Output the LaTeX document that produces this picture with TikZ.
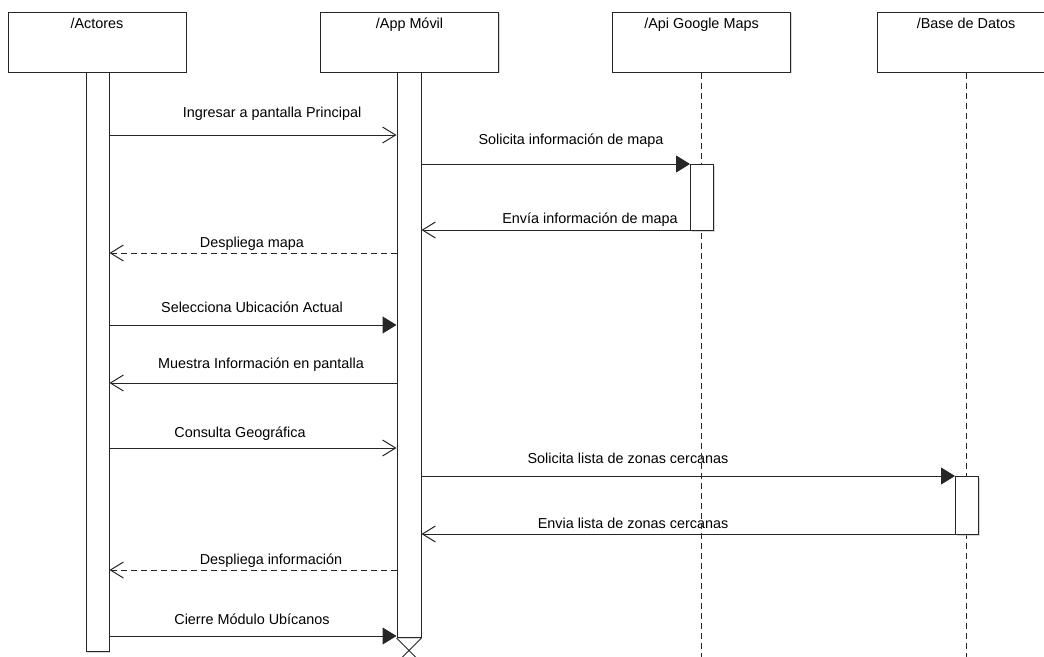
\documentclass[tikz,border=0pt]{standalone}
\usepackage{fontspec}
\setmainfont{Liberation Sans}
\usepackage{tikz}
\usetikzlibrary{arrows.meta}
\usetikzlibrary{shadows}
\usetikzlibrary{positioning}
\tikzset{shade/.style = {drop shadow={shadow xshift=1.2pt,shadow yshift=-1.2pt,fill=black!30}}}
\tikzset{head/.style = {draw=black!85, line width=1pt, fill=white, shade, minimum width=178pt, minimum height=60pt, inner sep=0}}
\tikzset{bar/.style = {draw=black!85, line width=1pt, fill=white, shade, inner sep=0, anchor=north}}
\tikzset{lbl/.style = {font=\fontsize{14.4}{16}\selectfont, anchor=base, inner sep=0}}
\tikzset{life/.style = {draw=black!85, line width=1pt, dash pattern=on 6pt off 4pt}}
\tikzset{call/.style = {draw=black!85, line width=1pt, -{Triangle[length=14pt,width=17pt]}}}
\tikzset{async/.style = {draw=black!85, line width=1pt, -{Straight Barb[length=13pt,width=16pt]}}}
\tikzset{ret/.style = {async, dash pattern=on 6pt off 4pt}}

\begin{document}
\begin{tikzpicture}[x=1pt,y=-1pt]
        \useasboundingbox (0,0) rectangle (1044,656);
        \clip (0,0) rectangle (1044,656);
        % participants
        \node[head, label={[lbl,yshift=-17pt]north:{/Actores}}] (actores) at (97,42) {};
        \node[head, label={[lbl,yshift=-17pt]north:{/App Móvil}}] (app) at (409.5,42) {};
        \node[head, label={[lbl,yshift=-17pt]north:{/Api Google Maps}}] (api) at (701.5,42) {};
        \node[head, label={[lbl,yshift=-17pt]north:{/Base de Datos}}] (bd) at (966,42) {};
        % activation bars
        \node[bar, minimum width=23pt, minimum height=579pt] (actbar) at (97.5,72) {};
        \node[bar, minimum width=24pt, minimum height=565pt] (appbar) at (409,72) {};
        % messages
        \draw[async] (actbar.east |- 0,135) -- (appbar.west |- 0,135);
        \node[lbl] (m1) at (272,117) {Ingresar a pantalla Principal};
        \draw[call] (appbar.east |- 0,164) -- (690,164) coordinate (apitop);
        \node[lbl] (m2) at (571,144) {Solicita información de mapa};
        \draw[async] (690,230) coordinate (apibot) -- (appbar.east |- 0,230);
        \node[lbl] (m3) at (590,223) {Envía información de mapa};
        \draw[ret] (appbar.west |- 0,253) -- (actbar.east |- 0,253);
        \node[lbl] (m4) at (252,247) {Despliega mapa};
        \draw[call] (actbar.east |- 0,325) -- (appbar.west |- 0,325);
        \node[lbl] (m5) at (252,312) {Selecciona Ubicación Actual};
        \draw[async] (appbar.west |- 0,383) -- (actbar.east |- 0,383);
        \node[lbl] (m6) at (261,368) {Muestra Información en pantalla};
        \draw[async] (actbar.east |- 0,448) -- (appbar.west |- 0,448);
        \node[lbl] (m7) at (240,437) {Consulta Geográfica};
        \draw[call] (appbar.east |- 0,476) -- (955,476) coordinate (bdtop);
        \node[lbl] (m8) at (628,463) {Solicita lista de zonas cercanas};
        \draw[async] (955,534) coordinate (bdbot) -- (appbar.east |- 0,534);
        \node[lbl] (m9) at (633,528) {Envia lista de zonas cercanas};
        \draw[ret] (appbar.west |- 0,570) -- (actbar.east |- 0,570);
        \node[lbl] (m10) at (271,564) {Despliega información};
        \draw[call] (actbar.east |- 0,636) -- (appbar.west |- 0,636);
        \node[lbl] (m11) at (252,624) {Cierre Módulo Ubícanos};
        % lifelines
        \draw[life] (api.south) -- ++(0,600);
        \draw[life] (bd.south) -- ++(0,600);
        \node[bar, minimum width=23pt, minimum height=66pt, anchor=north west] (apiact) at (apitop) {};
        \node[bar, minimum width=23pt, minimum height=58pt, anchor=north west] (bdact) at (bdtop) {};
        % destruction
        \draw[draw=black!85, line width=1pt] (appbar.south west) -- ++(24,24) (appbar.south east) -- ++(-24,24);
    \end{tikzpicture}
\end{document}
